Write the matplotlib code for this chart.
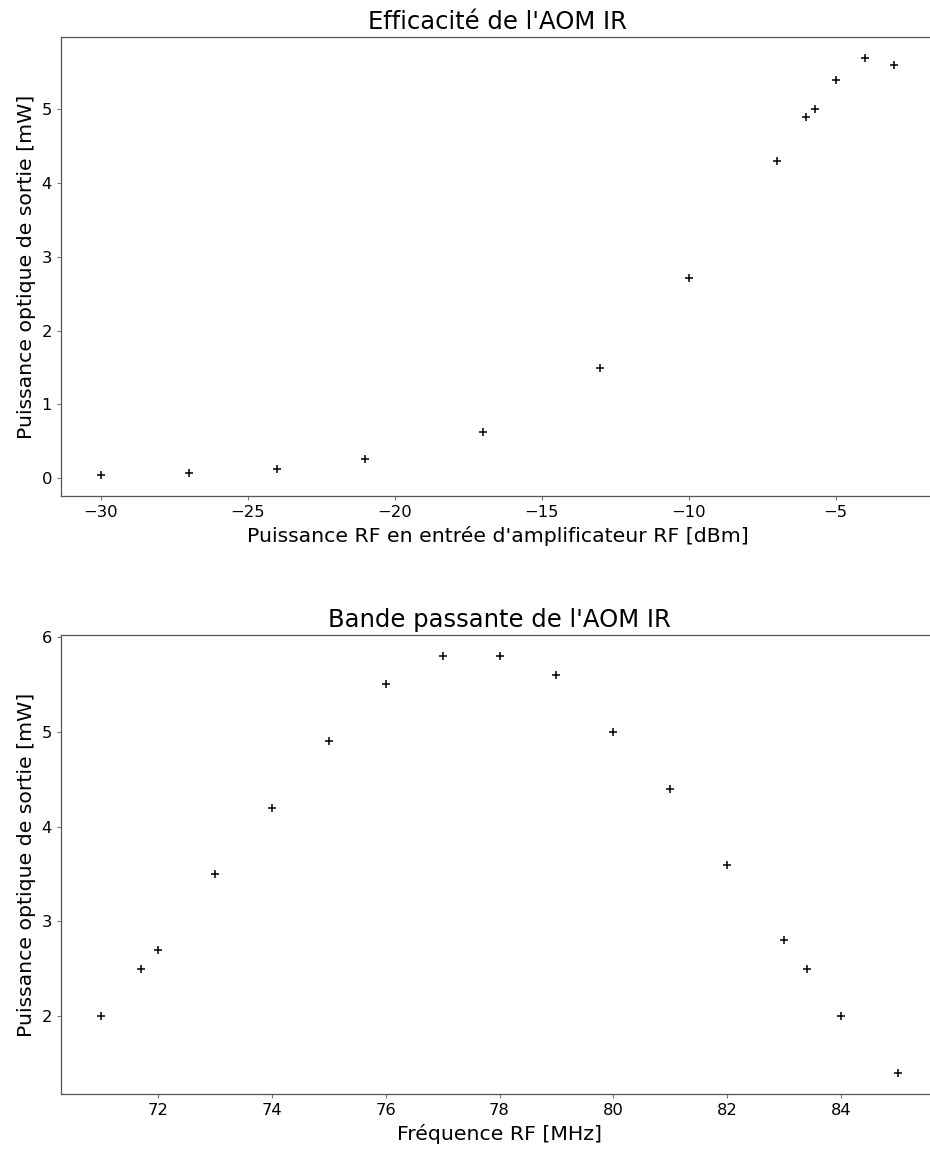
import matplotlib
matplotlib.use("Agg")
import matplotlib.pyplot as plt

# Efficiency data
rf_power_dbm = [-30, -27, -24, -21, -17, -13, -10, -7, -6, -5.7, -5, -4, -3]
opt_power_eff = [0.04, 0.07, 0.13, 0.26, 0.62, 1.49, 2.71, 4.30, 4.90, 5.00, 5.40, 5.70, 5.60]

# Bandwidth data
freq_mhz = [71, 71.7, 72, 73, 74, 75, 76, 77, 78, 79, 80, 81, 82, 83, 83.4, 84, 85]
opt_power_bw = [2.0, 2.5, 2.7, 3.5, 4.2, 4.9, 5.5, 5.8, 5.8, 5.6, 5.0, 4.4, 3.6, 2.8, 2.5, 2.0, 1.4]

W, H = 930, 1155
fig = plt.figure(figsize=(W / 100, H / 100), dpi=100)

TITLE_FS = 17.5
LABEL_FS = 14.7
TICK_FS = 11.8
SPINE_C = '#555555'


def style(ax):
    ax.tick_params(labelsize=TICK_FS, length=3, width=0.8, color='#777777')
    for name, sp in ax.spines.items():
        sp.set_color(SPINE_C)
        sp.set_linewidth(0.9)
    ax.spines['right'].set_visible(False)


ax1 = fig.add_axes([61 / W, (H - 496) / H, 873 / W, 459 / H])
ax1.scatter(rf_power_dbm, opt_power_eff, marker='+', color='black', s=40, linewidths=1.1)
ax1.set_title("Efficacité de l'AOM IR", fontsize=TITLE_FS)
ax1.set_xlabel("Puissance RF en entrée d'amplificateur RF [dBm]", fontsize=LABEL_FS)
ax1.set_ylabel("Puissance optique de sortie [mW]", fontsize=LABEL_FS)
style(ax1)

ax2 = fig.add_axes([61 / W, (H - 1094) / H, 877 / W, 459 / H])
ax2.scatter(freq_mhz, opt_power_bw, marker='+', color='black', s=40, linewidths=1.1)
ax2.set_title("Bande passante de l'AOM IR", fontsize=TITLE_FS)
ax2.set_xlabel("Fréquence RF [MHz]", fontsize=LABEL_FS)
ax2.set_ylabel("Puissance optique de sortie [mW]", fontsize=LABEL_FS)
style(ax2)

fig.savefig("out.png", dpi=100)
